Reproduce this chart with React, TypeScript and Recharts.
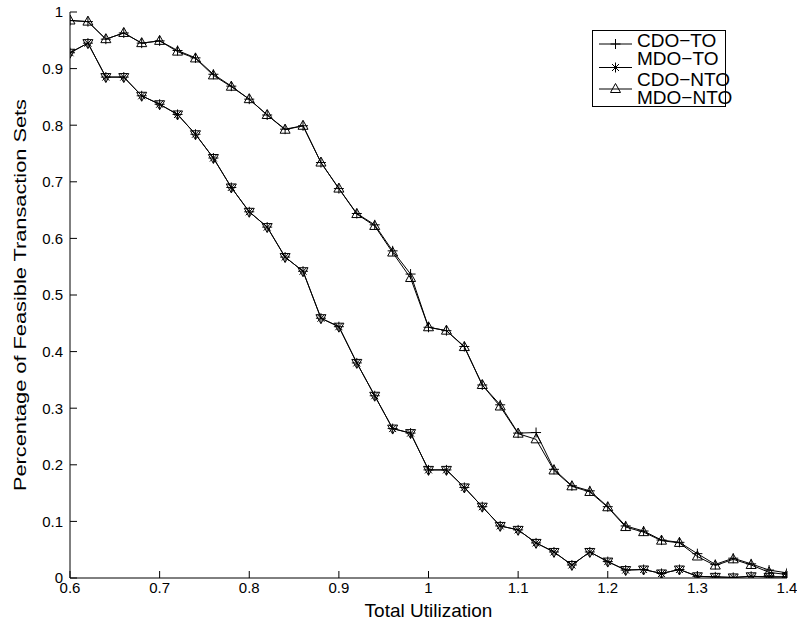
import React from 'react';
import { LineChart, Line, XAxis, YAxis, Legend } from 'recharts';

// total utilization, one point every 0.02
const utilization = [
  0.6, 0.62, 0.64, 0.66, 0.68, 0.7, 0.72, 0.74, 0.76, 0.78, 0.8,
  0.82, 0.84, 0.86, 0.88, 0.9, 0.92, 0.94, 0.96, 0.98, 1.0,
  1.02, 1.04, 1.06, 1.08, 1.1, 1.12, 1.14, 1.16, 1.18, 1.2,
  1.22, 1.24, 1.26, 1.28, 1.3, 1.32, 1.34, 1.36, 1.38, 1.4,
];

const cdoTo = [
  0.985, 0.983, 0.952, 0.963, 0.945, 0.949, 0.932, 0.919, 0.89, 0.869, 0.846,
  0.818, 0.793, 0.799, 0.734, 0.688, 0.644, 0.624, 0.578, 0.537, 0.443,
  0.437, 0.409, 0.341, 0.306, 0.256, 0.257, 0.192, 0.163, 0.154, 0.126,
  0.092, 0.083, 0.067, 0.063, 0.043, 0.024, 0.035, 0.025, 0.014, 0.009,
];

const mdoTo = [
  0.928, 0.945, 0.885, 0.885, 0.852, 0.837, 0.819, 0.784, 0.742, 0.69, 0.647,
  0.62, 0.567, 0.542, 0.459, 0.444, 0.38, 0.322, 0.264, 0.256, 0.191,
  0.191, 0.16, 0.126, 0.092, 0.085, 0.062, 0.046, 0.023, 0.046, 0.029,
  0.014, 0.015, 0.008, 0.015, 0.003, 0.002, 0.001, 0.003, 0.002, 0.002,
];

const cdoNto = [
  0.985, 0.983, 0.952, 0.963, 0.945, 0.949, 0.93, 0.918, 0.888, 0.868, 0.846,
  0.818, 0.792, 0.799, 0.734, 0.688, 0.643, 0.622, 0.575, 0.53, 0.443,
  0.437, 0.408, 0.341, 0.303, 0.255, 0.245, 0.19, 0.162, 0.152, 0.125,
  0.09, 0.081, 0.066, 0.062, 0.038, 0.022, 0.033, 0.023, 0.01, 0.006,
];

const mdoNto = [
  0.928, 0.945, 0.885, 0.885, 0.852, 0.837, 0.819, 0.784, 0.742, 0.69, 0.647,
  0.62, 0.567, 0.542, 0.459, 0.444, 0.38, 0.322, 0.264, 0.256, 0.191,
  0.191, 0.16, 0.126, 0.092, 0.085, 0.062, 0.046, 0.023, 0.046, 0.029,
  0.014, 0.015, 0.008, 0.015, 0.003, 0.002, 0.001, 0.003, 0.002, 0.002,
];

const xTicks = [0.6, 0.7, 0.8, 0.9, 1, 1.1, 1.2, 1.3, 1.4];
const yTicks = [0, 0.1, 0.2, 0.3, 0.4, 0.5, 0.6, 0.7, 0.8, 0.9, 1];

const data = utilization.map((x, i) => ({
  x,
  cdoTo: cdoTo[i],
  mdoTo: mdoTo[i],
  cdoNto: cdoNto[i],
  mdoNto: mdoNto[i],
}));

const FONT = '"Liberation Sans", Arial, Helvetica, sans-serif';

// matlab style markers
const PlusMark = ({ cx, cy }: any) => (
  <path d={`M${cx - 5},${cy}H${cx + 5}M${cx},${cy - 5}V${cy + 5}`} stroke="#000" strokeWidth={1} fill="none" />
);

const StarMark = ({ cx, cy }: any) => (
  <path
    d={`M${cx - 5},${cy}H${cx + 5}M${cx},${cy - 5}V${cy + 5}M${cx - 3.5},${cy - 3.5}L${cx + 3.5},${cy + 3.5}M${cx - 3.5},${cy + 3.5}L${cx + 3.5},${cy - 3.5}`}
    stroke="#000"
    strokeWidth={1}
    fill="none"
  />
);

const TriUp = ({ cx, cy }: any) => (
  <path d={`M${cx},${cy - 5.5}L${cx - 5},${cy + 3.5}L${cx + 5},${cy + 3.5}Z`} stroke="#000" strokeWidth={1} fill="none" />
);

const TriDown = ({ cx, cy }: any) => (
  <path d={`M${cx},${cy + 5.5}L${cx - 5},${cy - 3.5}L${cx + 5},${cy - 3.5}Z`} stroke="#000" strokeWidth={1} fill="none" />
);

const renderLegend = () => (
  <svg width={134} height={78} style={{ overflow: 'visible', display: 'block' }}>
    <rect x={0.5} y={0.5} width={133} height={76} fill="#fff" stroke="#000" />
    <line x1={7} x2={40} y1={14} y2={14} stroke="#000" />
    <PlusMark cx={23.5} cy={14} />
    <line x1={7} x2={40} y1={37.5} y2={37.5} stroke="#000" />
    <StarMark cx={23.5} cy={37.5} />
    <line x1={7} x2={40} y1={59} y2={59} stroke="#000" />
    <TriUp cx={23.5} cy={59} />
    <g fontFamily={FONT} fontSize={19} fill="#000">
      <text x={45} y={17}>CDO−TO</text>
      <text x={45} y={34.5}>MDO−TO</text>
      <text x={45} y={56}>CDO−NTO</text>
      <text x={45} y={74}>MDO−NTO</text>
    </g>
  </svg>
);

const YLabel = ({ viewBox }: any) => {
  const cy = viewBox.y + viewBox.height / 2;
  return (
    <text
      x={26}
      y={cy}
      transform={`rotate(-90, 26, ${cy})`}
      textAnchor="middle"
      fontSize={17}
      fontFamily={FONT}
      fill="#000"
      textLength={392}
      lengthAdjust="spacingAndGlyphs"
    >
      Percentage of Feasible Transaction Sets
    </text>
  );
};

const XLabel = ({ viewBox }: any) => {
  const cx = viewBox.x + viewBox.width / 2;
  return (
    <text x={cx} y={617} textAnchor="middle" fontSize={19} fontFamily={FONT} fill="#000">
      Total Utilization
    </text>
  );
};

export default function App() {
  const tickStyle = { fontSize: 15, fill: '#000', fontFamily: FONT };
  return (
    <div style={{ position: 'absolute', left: 0, top: 0, background: '#fff', fontFamily: FONT }}>
      <LineChart width={797} height={626} data={data} margin={{ top: 12, right: 10, bottom: 0, left: 0 }}>
        <XAxis
          dataKey="x"
          type="number"
          domain={[0.6, 1.4]}
          ticks={xTicks}
          height={48}
          tickSize={-7}
          tickMargin={11}
          tick={tickStyle}
          stroke="#000"
          allowDataOverflow
          label={<XLabel />}
        />
        <XAxis
          xAxisId="top"
          orientation="top"
          type="number"
          domain={[0.6, 1.4]}
          ticks={xTicks}
          height={0}
          tickSize={-7}
          tick={false}
          stroke="#000"
        />
        <YAxis
          type="number"
          domain={[0, 1]}
          ticks={yTicks}
          width={70}
          tickSize={-7}
          tickMargin={14}
          tick={tickStyle}
          stroke="#000"
          allowDataOverflow
          label={<YLabel />}
        />
        <YAxis
          yAxisId="right"
          orientation="right"
          type="number"
          domain={[0, 1]}
          ticks={yTicks}
          width={0}
          tickSize={-7}
          tick={false}
          stroke="#000"
        />
        <Legend
          layout="horizontal"
          verticalAlign="middle"
          align="center"
          wrapperStyle={{ left: 592, top: 30, width: 134, height: 78 }}
          content={renderLegend}
        />
        <Line
          dataKey="cdoTo"
          name="CDO-TO"
          type="linear"
          stroke="#000"
          strokeWidth={1}
          isAnimationActive={false}
          activeDot={false}
          dot={(p: any) => <PlusMark key={`p-${p.index}`} cx={p.cx} cy={p.cy} />}
        />
        <Line
          dataKey="mdoTo"
          name="MDO-TO"
          type="linear"
          stroke="#000"
          strokeWidth={1}
          isAnimationActive={false}
          activeDot={false}
          dot={(p: any) => <StarMark key={`s-${p.index}`} cx={p.cx} cy={p.cy} />}
        />
        <Line
          dataKey="cdoNto"
          name="CDO-NTO"
          type="linear"
          stroke="#000"
          strokeWidth={1}
          isAnimationActive={false}
          activeDot={false}
          dot={(p: any) => <TriUp key={`u-${p.index}`} cx={p.cx} cy={p.cy} />}
        />
        <Line
          dataKey="mdoNto"
          name="MDO-NTO"
          type="linear"
          stroke="#000"
          strokeWidth={1}
          isAnimationActive={false}
          activeDot={false}
          dot={(p: any) => <TriDown key={`d-${p.index}`} cx={p.cx} cy={p.cy} />}
        />
      </LineChart>
    </div>
  );
}
